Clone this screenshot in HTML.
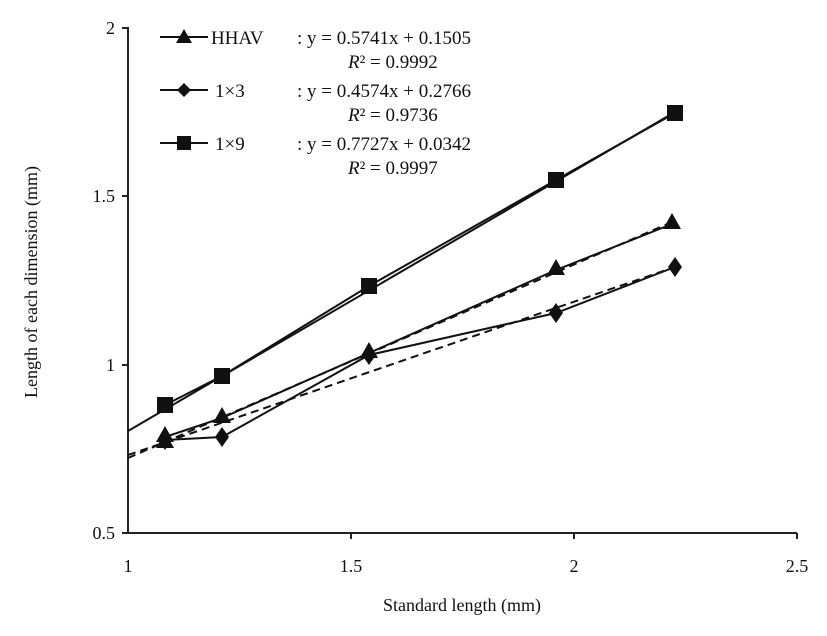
<!DOCTYPE html>
<html><head><style>body{margin:0;background:#fff}</style></head><body>
<svg width="827" height="631" xmlns="http://www.w3.org/2000/svg" font-family="Liberation Serif, serif" fill="#111">
<rect width="827" height="631" fill="#fff"/>
<g stroke="#222" stroke-width="2" fill="none">
<line x1="128" y1="27" x2="128" y2="534"/>
<line x1="127" y1="533" x2="797" y2="533"/>
<line x1="122" y1="28" x2="128" y2="28"/><line x1="122" y1="196" x2="128" y2="196"/><line x1="122" y1="365" x2="128" y2="365"/><line x1="122" y1="533" x2="128" y2="533"/>
<line x1="351" y1="533" x2="351" y2="539"/><line x1="574" y1="533" x2="574" y2="539"/><line x1="797" y1="533" x2="797" y2="539"/>
</g>
<g font-size="18" text-anchor="end">
<text x="115" y="34">2</text><text x="115" y="202">1.5</text><text x="115" y="371">1</text><text x="115" y="539">0.5</text>
</g>
<g font-size="18" text-anchor="middle">
<text x="128" y="572">1</text><text x="351" y="572">1.5</text><text x="574" y="572">2</text><text x="797" y="572">2.5</text>
<text x="462" y="611">Standard length (mm)</text>
<text transform="translate(37,282) rotate(-90)">Length of each dimension (mm)</text>
</g>
<g stroke="#111" stroke-width="2" fill="none">
<line x1="128" y1="431" x2="675" y2="112"/>
<line x1="128" y1="458" x2="672" y2="222" stroke-dasharray="8,5"/>
<line x1="128" y1="455" x2="675" y2="267" stroke-dasharray="8,5"/>
<polyline points="165,405 222,376 369,286 556,180 675,113"/>
<polyline points="165,437 222,418 369,353 556,270 672,224"/>
<polyline points="165,440 222,437 369,355 556,313 675,267"/>
</g>
<g>
<rect x="157" y="397" width="16" height="16"/><rect x="214" y="368" width="16" height="16"/><rect x="361" y="278" width="16" height="16"/><rect x="548" y="172" width="16" height="16"/><rect x="667" y="105" width="16" height="16"/>
<path d="M165,426 l9,16 h-18z M165,432 l9,16 h-18z M222,407 l9,16 h-18z M369,342 l9,16 h-18z M556,259 l9,16 h-18z M672,213 l9,16 h-18z"/>
<path d="M165,430 l7,10 -7,10 -7,-10z M222,427 l7,10 -7,10 -7,-10z M369,345 l7,10 -7,10 -7,-10z M556,303 l7,10 -7,10 -7,-10z M675,257 l7,10 -7,10 -7,-10z"/>
</g>
<g stroke="#111" stroke-width="2">
<line x1="160" y1="37" x2="208" y2="37"/><line x1="160" y1="90" x2="208" y2="90"/><line x1="160" y1="143" x2="208" y2="143"/>
</g>
<path d="M184,29 l8,14 h-16z M184,83 l7,7 -7,7 -7,-7z"/><rect x="177" y="136" width="14" height="14"/>
<g font-size="19">
<text x="211" y="44">HHAV</text><text x="297" y="44">: y = 0.5741x + 0.1505</text>
<text x="348" y="68"><tspan font-style="italic">R</tspan>² = 0.9992</text>
<text x="215" y="97">1×3</text><text x="297" y="97">: y = 0.4574x + 0.2766</text>
<text x="348" y="121"><tspan font-style="italic">R</tspan>² = 0.9736</text>
<text x="215" y="150">1×9</text><text x="297" y="150">: y = 0.7727x + 0.0342</text>
<text x="348" y="174"><tspan font-style="italic">R</tspan>² = 0.9997</text>
</g>
</svg>
</body></html>
